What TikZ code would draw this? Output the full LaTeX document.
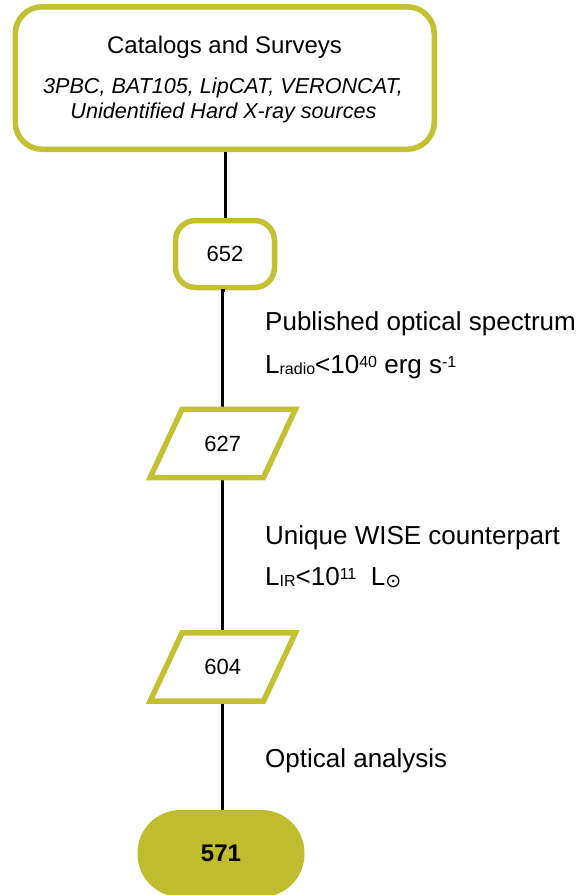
\documentclass[tikz,border=0pt]{standalone}
\usepackage{fontspec}
\setmainfont{Liberation Sans}
\newfontfamily\symfont{DejaVu Sans}
\usetikzlibrary{calc}
\definecolor{boxolive}{HTML}{C3C032}
\definecolor{filolive}{HTML}{BFBC2D}
\newcommand\mysub[1]{\raisebox{-1.5pt}{\fontsize{16}{16}\selectfont #1}}
\newcommand\mysup[1]{\raisebox{6pt}{\fontsize{16}{16}\selectfont #1}}
\tikzset{
  boxline/.style={draw=boxolive, line width=5.5pt},
  conn/.style={draw=black, line width=3pt},
  lab/.style={font=\fontsize{26}{30}\selectfont, inner sep=0pt, anchor=base west},
  numtext/.style={font=\fontsize{22}{26}\selectfont, inner sep=0pt},
  paranode/.style={minimum width=113pt, minimum height=68pt, inner sep=0pt, font=\fontsize{22}{26}\selectfont}
}
\begin{document}
\begin{tikzpicture}[x=1pt,y=-1pt]
\useasboundingbox (0,0) rectangle (579,895);
% nodes
\node[boxline, fill=white, rounded corners=27pt, minimum width=419pt, minimum height=142.5pt, inner sep=0pt] (top) at (224.75,78) {};
\node[anchor=base, inner sep=0pt, font=\fontsize{24}{28}\selectfont] (t1) at (224.5,53) {Catalogs and Surveys};
\node[anchor=base, inner sep=0pt, font=\fontsize{21.6}{25}\selectfont\itshape] (t2) at (223,93) {3PBC, BAT105, LipCAT, VERONCAT,};
\node[anchor=base, inner sep=0pt, font=\fontsize{21.6}{25}\selectfont\itshape] (t3) at (223.5,118) {Unidentified Hard X-ray sources};

\node[boxline, fill=white, rounded corners=20pt, minimum width=99pt, minimum height=67pt, inner sep=0pt, numtext] (n652) at (225,254) {652};

\node[paranode] (p627) at (222.75,443.5) {627};
\node[paranode] (p604) at (222.75,667) {604};

\node[fill=filolive, rounded corners=43pt, minimum width=167pt, minimum height=87pt, inner sep=0pt, font=\fontsize{24}{28}\selectfont\bfseries] (n571) at (221,853.5) {571};

% connectors
\draw[conn] (n652.north |- top.south) -- (n652.north);
\draw[conn] (n652.south) -- (n652.south -| p627.north) -- (p627.north);
\draw[conn] (p627.south) -- (p604.north);
\draw[conn] (p604.south) -- (p604.south |- n571.north);

% parallelograms
\foreach \p in {p627,p604}{
  \draw[boxline, line join=miter]
    ($(\p.north west)+(16,0)$) -- ($(\p.north east)+(16,0)$) --
    ($(\p.south east)+(-16,0)$) -- ($(\p.south west)+(-16,0)$) -- cycle;
}

% side labels
\node[lab] (l1) at (265,330) {Published optical spectrum};
\node[lab] (l2) at (265,373) {L\mysub{radio}<10\mysup{40} erg s\mysup{-1}};
\node[lab] (l3) at (265,544) {Unique WISE counterpart};
\node[lab] (l4) at (265,585) {L\mysub{IR}<10\mysup{11}\ \ L\raisebox{-2pt}{\fontsize{19}{19}\selectfont\symfont ⊙}};
\node[lab] (l5) at (265,767) {Optical analysis};
\end{tikzpicture}
\end{document}
